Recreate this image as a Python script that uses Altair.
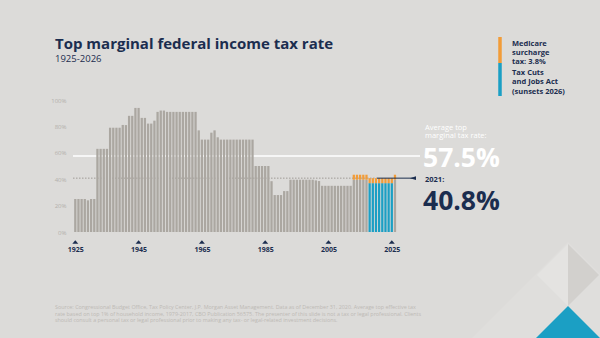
import altair as alt
import pandas as pd

# ---------------- data ----------------
years = list(range(1925, 2027))
rates = (
    [25, 25, 25, 25, 24, 25, 25]            # 1925-1931
    + [63] * 4                              # 1932-1935
    + [79] * 4                              # 1936-1939
    + [81.1, 81]                            # 1940-1941
    + [88, 88, 94, 94]                      # 1942-1945
    + [86.45, 86.45, 82.13, 82.13, 84.36]   # 1946-1950
    + [91, 92, 92]                          # 1951-1953
    + [91] * 10                             # 1954-1963
    + [77, 70, 70, 70, 75.25, 77, 71.75]    # 1964-1970
    + [70] * 11                             # 1971-1981
    + [50] * 5                              # 1982-1986
    + [38.5, 28, 28, 28, 31, 31]            # 1987-1992
    + [39.6] * 8                            # 1993-2000
    + [39.1, 38.6]                          # 2001-2002
    + [35] * 10                             # 2003-2012
    + [39.6] * 5                            # 2013-2017
    + [37] * 8                              # 2018-2025
    + [39.6]                                # 2026
)
surcharge = [3.8 if y >= 2013 else 0 for y in years]
group = ["tcja" if 2018 <= y <= 2025 else "other" for y in years]

label_years = [1925, 1945, 1965, 1985, 2005, 2025]
y_ticks = [0, 20, 40, 60, 80, 100]
average_rate = 57.5
rate_2021 = 40.8

df = pd.DataFrame({"year": years, "rate": rates, "surcharge": surcharge, "group": group})
df["lo"] = df["year"] - 0.36
df["hi"] = df["year"] + 0.36
df["top"] = df["rate"] + df["surcharge"]

# ---------------- style ----------------
BG = "#dcdbd9"
GRAY = "#aba7a1"
BLUE = "#1b9fc4"
ORANGE = "#f29c38"
NAVY = "#1b2d4f"
FONT = "Open Sans"

W, H = 350, 132
L, T = 70, 100

xs = alt.Scale(domain=[1923.33, 2033.91], nice=False, zero=False)
ys = alt.Scale(domain=[0, 100], nice=False)

X_AXIS = alt.Axis(
    values=label_years, format="d", title=None, grid=False, domain=False, ticks=False,
    labelOverlap=False, labelFont=FONT, labelFontWeight="bold", labelFontSize=7,
    labelColor=NAVY, labelPadding=13)
Y_AXIS = alt.Axis(
    values=y_ticks, labelExpr="datum.value + '%'", title=None, grid=False, domain=False,
    ticks=False, labelOverlap=False, labelFont=FONT, labelFontSize=6, labelColor="#b3b0ab",
    labelPadding=4)

base_bars = alt.Chart(df).mark_bar().encode(
    x=alt.X("lo:Q", scale=xs, axis=X_AXIS),
    x2="hi:Q",
    y=alt.Y("rate:Q", scale=ys, axis=Y_AXIS),
    y2=alt.datum(0),
    color=alt.Color("group:N", scale=alt.Scale(domain=["other", "tcja"], range=[GRAY, BLUE]), legend=None),
)

sur_bars = alt.Chart(df).transform_filter("datum.surcharge > 0").mark_bar(color=ORANGE).encode(
    x=alt.X("lo:Q", scale=xs, axis=X_AXIS), x2="hi:Q",
    y=alt.Y("rate:Q", scale=ys, axis=Y_AXIS), y2="top:Q",
)

tri = alt.Chart(pd.DataFrame({"year": label_years})).mark_point(
    shape="M-1,0.6L0,-0.6L1,0.6Z", filled=True, size=36, color=NAVY, opacity=1
).encode(x=alt.X("year:Q", scale=xs, axis=X_AXIS), y=alt.value(H + 10))

avg_line = alt.Chart(pd.DataFrame({"v": [average_rate]})).mark_rule(color="white", strokeWidth=1.5).encode(
    y=alt.Y("v:Q", scale=ys, axis=Y_AXIS), x=alt.value(3), x2=alt.value(350))

dot_line = alt.Chart(pd.DataFrame({"v": [rate_2021]})).mark_rule(
    color="#8f8c87", strokeWidth=0.8, strokeDash=[1.5, 1.5]).encode(
    y=alt.Y("v:Q", scale=ys, axis=Y_AXIS), x=alt.value(3), x2=alt.value(307))

dark_line = alt.Chart(pd.DataFrame({"v": [rate_2021]})).mark_rule(color=NAVY, strokeWidth=1).encode(
    y=alt.Y("v:Q", scale=ys, axis=Y_AXIS), x=alt.value(307), x2=alt.value(343))

arrow = alt.Chart(pd.DataFrame({"v": [rate_2021]})).mark_point(
    shape="M-1,0L1,-0.6L1,0.6Z", filled=True, size=36, color=NAVY, opacity=1).encode(
    y=alt.Y("v:Q", scale=ys, axis=Y_AXIS), x=alt.value(343))


def txt(s, x, y, size, color, weight="normal", baseline="alphabetic", font=FONT):
    return alt.Chart(pd.DataFrame({"t": [s]})).mark_text(
        align="left", baseline=baseline, font=font, fontSize=size, color=color,
        fontWeight=weight, lineBreak="\n").encode(
        text="t:N", x=alt.value(x), y=alt.value(y))


FOOT = "#bdbab5"
texts = [
    txt("Top marginal federal income tax rate", 55 - L, 49 - T, 15, NAVY, "bold"),
    txt("1925-2026", 55 - L, 62 - T, 9.5, NAVY),
    txt("Average top", 425 - L, 129.5 - T, 7.5, "white"),
    txt("marginal tax rate:", 425 - L, 138 - T, 7.5, "white"),
    txt("57.5%", 423 - L, 167 - T, 26.5, "white", "bold"),
    txt("2021:", 425 - L, 181.5 - T, 7.5, NAVY, "bold"),
    txt("40.8%", 423 - L, 210 - T, 26.5, NAVY, "bold"),
    txt("Medicare", 512 - L, 46 - T, 7.5, NAVY, "bold"),
    txt("surcharge", 512 - L, 55 - T, 7.5, NAVY, "bold"),
    txt("tax: 3.8%", 512 - L, 64 - T, 7.5, NAVY, "bold"),
    txt("Tax Cuts", 512 - L, 75 - T, 7.5, NAVY, "bold"),
    txt("and Jobs Act", 512 - L, 84 - T, 7.5, NAVY, "bold"),
    txt("(sunsets 2026)", 512 - L, 94 - T, 7.5, NAVY, "bold"),
    txt("Source: Congressional Budget Office, Tax Policy Center, J.P. Morgan Asset Management. Data as of December 31, 2020. Average top effective tax",
        55 - L, 309 - T, 5.4, FOOT),
    txt("rate based on top 1% of household income, 1979-2017, CBO Publication 56575. The presenter of this slide is not a tax or legal professional. Clients",
        55 - L, 315.5 - T, 5.4, FOOT),
    txt("should consult a personal tax or legal professional prior to making any tax- or legal-related investment decisions.",
        55 - L, 322 - T, 5.4, FOOT),
]

legend_orange = alt.Chart(pd.DataFrame({"a": [0]})).mark_rule(color=ORANGE, strokeWidth=3.5).encode(
    x=alt.value(500 - L), y=alt.value(37 - T), y2=alt.value(63 - T))
legend_blue = alt.Chart(pd.DataFrame({"a": [0]})).mark_rule(color=BLUE, strokeWidth=3.5).encode(
    x=alt.value(500 - L), y=alt.value(63 - T), y2=alt.value(96 - T))


def deco(path, x, y, size, color):
    return alt.Chart(pd.DataFrame({"a": [0]})).mark_point(
        shape=path, filled=True, size=size, color=color, opacity=1, strokeWidth=0).encode(
        x=alt.value(x - L), y=alt.value(y - T))


decor = [
    deco("M-1,1L0,0L1,1Z", 568, 242, 196 ** 2, "#dfdedc"),
    deco("M0,-1L-1,0L0,1Z", 568, 275, 62 ** 2, "#e4e3e1"),
    deco("M0,-1L1,0L0,1Z", 568, 275, 62 ** 2, "#d2d0cd"),
    deco("M-1,1L0,0L1,1Z", 568, 306, 64 ** 2, BLUE),
]

chart = alt.layer(
    *decor, avg_line, dot_line, base_bars, sur_bars, dark_line, arrow, tri,
    legend_orange, legend_blue, *texts
).properties(
    width=W, height=H,
    padding={"left": L, "top": T, "right": 600 - L - W, "bottom": 338 - T - H},
    autosize=alt.AutoSizeParams(type="none"),
    background=BG,
).configure_view(stroke=None)

chart.save("out.html", embed_options={"renderer": "svg", "actions": False})
